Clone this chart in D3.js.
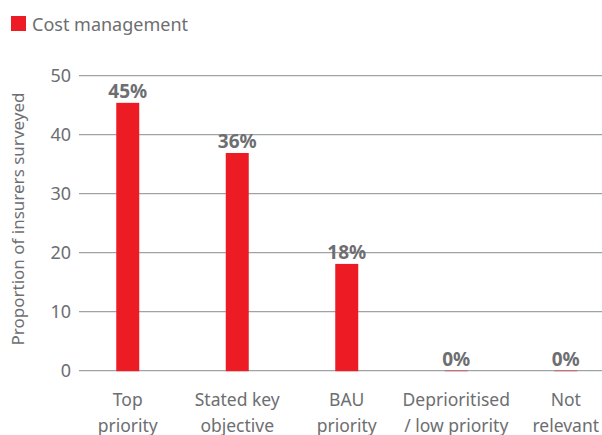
<!DOCTYPE html>
<html>
<head>
<meta charset="utf-8">
<script src="https://cdn.jsdelivr.net/npm/d3@7"></script>
<style>
  body { margin: 0; background: #fff; }
  text { font-family: "Noto Sans", sans-serif; }
</style>
</head>
<body>
<svg width="602" height="435"></svg>
<script>
const categories = [
  ['Top', 'priority'],
  ['Stated key', 'objective'],
  ['BAU', 'priority'],
  ['Deprioritised', '/ low priority'],
  ['Not', 'relevant']
];
const values = [45.4, 36.9, 18.1, 0, 0];
const valueLabels = ['45%', '36%', '18%', '0%', '0%'];
const yTicks = [0, 10, 20, 30, 40, 50];
const seriesName = 'Cost management';

const red = '#ed1c24';
const grey = '#6d6e71';

const svg = d3.select('svg');

const x = d3
  .scaleBand()
  .domain(d3.range(categories.length))
  .range([73, 620.5])
  .paddingInner(0.79)
  .paddingOuter(0.395);

const y = d3.scaleLinear().domain([0, 50]).range([370.7, 75.7]);

// Gridlines + tick labels
const yAxis = svg.append('g');
yAxis
  .selectAll('line')
  .data(yTicks)
  .enter()
  .append('line')
  .attr('x1', 79)
  .attr('x2', 602)
  .attr('y1', d => y(d))
  .attr('y2', d => y(d))
  .attr('stroke', '#a0a2a5')
  .attr('stroke-width', 1.3);

yAxis
  .selectAll('text')
  .data(yTicks)
  .enter()
  .append('text')
  .attr('x', 71)
  .attr('y', d => y(d))
  .attr('dy', '0.35em')
  .attr('text-anchor', 'end')
  .attr('font-size', 18)
  .attr('fill', grey)
  .text(d => d);

// Bars
svg
  .append('g')
  .selectAll('rect')
  .data(values)
  .enter()
  .append('rect')
  .attr('x', (d, i) => x(i))
  .attr('y', d => y(d))
  .attr('width', x.bandwidth())
  .attr('height', d => y(0) - y(d) + 0.5)
  .attr('fill', red);

// Value labels
svg
  .append('g')
  .selectAll('text')
  .data(values)
  .enter()
  .append('text')
  .attr('x', (d, i) => x(i) + x.bandwidth() / 2)
  .attr('y', d => y(d) - 5)
  .attr('text-anchor', 'middle')
  .attr('font-size', 19)
  .attr('font-weight', 'bold')
  .attr('fill', grey)
  .text((d, i) => valueLabels[i]);

// Category labels
const xLabels = svg
  .append('g')
  .selectAll('text')
  .data(categories)
  .enter()
  .append('text')
  .attr('text-anchor', 'middle')
  .attr('font-size', 17.5)
  .attr('fill', grey);

xLabels
  .selectAll('tspan')
  .data((d, i) => d.map(line => ({ line, i })))
  .enter()
  .append('tspan')
  .attr('x', d => x(d.i) + x.bandwidth() / 2)
  .attr('y', (d, j) => 406 + j * 26)
  .text(d => d.line);

// Y axis title
svg
  .append('text')
  .attr('transform', 'translate(24, 219) rotate(-90)')
  .attr('text-anchor', 'middle')
  .attr('font-size', 17)
  .attr('fill', grey)
  .text('Proportion of insurers surveyed');

// Legend
svg
  .append('rect')
  .attr('x', 11)
  .attr('y', 16)
  .attr('width', 15)
  .attr('height', 15)
  .attr('fill', red);

svg
  .append('text')
  .attr('x', 32)
  .attr('y', 31)
  .attr('font-size', 18)
  .attr('fill', grey)
  .text(seriesName);
</script>
</body>
</html>
